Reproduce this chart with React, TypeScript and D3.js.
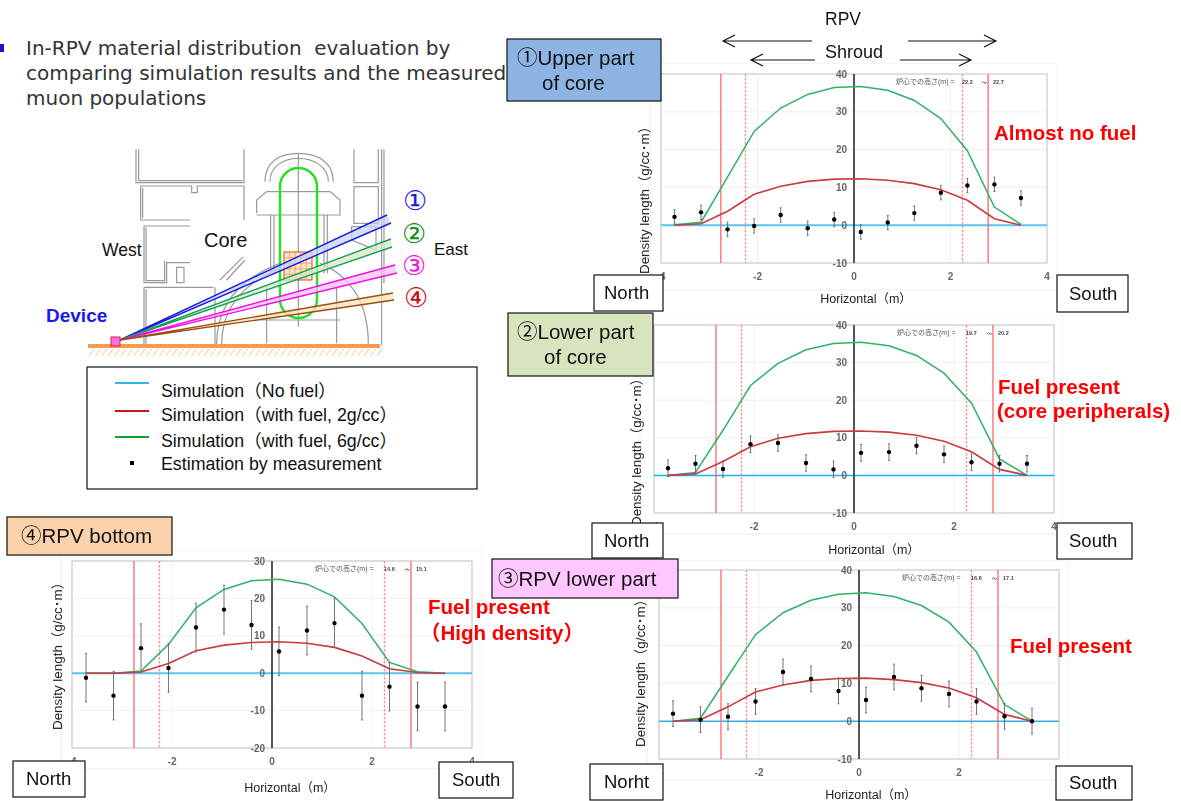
import React from "react";
import * as d3 from "d3";

const SANS = "'Liberation Sans','Noto Sans CJK JP',sans-serif";

const xSamples = [-3.72, -3.17, -2.62, -2.07, -1.52, -0.96, -0.41, 0.14, 0.70, 1.25, 1.80, 2.35, 2.91, 3.46];

const green1 = [0.1, 0.8, 12.8, 24.8, 31, 34.6, 36.4, 36.7, 35.7, 33, 28.2, 19.7, 4.8, 0.2];
const red1 = [0, 0.4, 3.7, 8.2, 10.3, 11.6, 12.2, 12.3, 11.9, 11, 9.4, 6.6, 1.7, 0];
const dots1 = [2.2, 3.4, -1.1, -0.2, 2.7, -0.8, 1.5, -1.8, 0.7, 3.2, 8.6, 10.5, 10.8, 7.2];

const green2 = [0, 0.8, 12, 23.9, 29.8, 33.4, 35.1, 35.4, 34.5, 31.9, 27.2, 19.2, 4.4, 0];
const red2 = [0, 0.4, 3.7, 7.6, 9.9, 11.1, 11.7, 11.8, 11.5, 10.7, 9.1, 6.3, 1.6, 0];
const dots2 = [1.9, 3.1, 1.7, 8.3, 8.6, 3.3, 1.6, 6, 6.2, 7.9, 5.6, 3.5, 3.1, 3.1];

const green3 = [0, 0.8, 11.9, 22.9, 28.7, 32, 33.6, 34, 33, 30.6, 26.2, 18.3, 4.4, 0];
const red3 = [0, 0.4, 3.8, 7.7, 9.6, 10.8, 11.3, 11.4, 11, 10.2, 8.8, 6.2, 1.8, 0];
const dots3 = [2, 0.4, 1.2, 5.2, 13, 11.2, 8, 5.6, 11.7, 8.7, 7.2, 5.2, 1.3, 0];

const green4 = [0, 0, 0.6, 7.7, 17.5, 22.4, 24.7, 25.1, 23.8, 20.4, 13.3, 2.9, 0.4, 0];
const red4 = [0, 0, 0.3, 2.6, 6, 7.5, 8.2, 8.4, 8, 6.9, 4.6, 1.2, 0.2, 0];
const dots4 = [-1.2, -6, 6.7, 1.4, 12.2, 17, 12.9, 5.8, 11.4, 13.4, -6, -3.6, -8.9, -8.9];

const xTicks = [-4, -2, 0, 2, 4];
const yTicks40 = [-10, 0, 10, 20, 30, 40];
const yTicks30 = [-20, -10, 0, 10, 20, 30];
const solidEdges = [-2.76, 2.78];
const dashedEdges = [-2.25, 2.25];

const legendLabels = ["Simulation（No fuel）", "Simulation（with fuel, 2g/cc）", "Simulation（with fuel, 6g/cc）", "Estimation by measurement"];
const introLines = ["In-RPV material distribution  evaluation by", "comparing simulation results and the measured", "muon populations"];

type ChartProps = {
  box: [number, number, number, number];
  frame: [number, number, number, number];
  green: number[]; red: number[]; dots: number[]; err: number;
  yDomain: [number, number]; yTicks: number[];
  heightNote: string[];
  cyan: string; zeroW: number;
  yLabel: { x: number; y: number }; xLabel: { x: number; y: number };
  noteX: number; noteOffs?: number[];
};

function Chart(p: ChartProps) {
  const [l, t, r, b] = p.box;
  const x = d3.scaleLinear().domain([-4, 4]).range([l, r]);
  const y = d3.scaleLinear().domain(p.yDomain).range([b, t]);
  const line = d3.line<number>().x((_, i) => x(xSamples[i])).y(d => y(d));
  const [fl, ft, fr, fb] = p.frame;
  const offs = p.noteOffs ?? [69, 90, 101];
  return (
    <g fontFamily={SANS} filter="url(#soft)">
      <rect x={fl} y={ft} width={fr - fl} height={fb - ft} fill="#fff" stroke="#ececec" />
      {p.yTicks.map(v => <line key={v} x1={l} x2={r} y1={y(v)} y2={y(v)} stroke="#f1f1f1" />)}
      {xTicks.map(v => <line key={v} x1={x(v)} x2={x(v)} y1={t} y2={b} stroke="#f1f1f1" />)}
      <rect x={l} y={t} width={r - l} height={b - t} fill="none" stroke="#d4d4d4" strokeWidth={1.4} />
      <line x1={l} x2={r} y1={y(0)} y2={y(0)} stroke={p.cyan} strokeWidth={p.zeroW} />
      <line x1={x(0)} x2={x(0)} y1={t} y2={b} stroke="#222" strokeWidth={1.5} />
      {solidEdges.map(v => <line key={v} x1={x(v)} x2={x(v)} y1={t} y2={b} stroke="#f4686c" strokeWidth={1.3} />)}
      {dashedEdges.map(v => <line key={v} x1={x(v)} x2={x(v)} y1={t} y2={b} stroke="#ff8f92" strokeWidth={1.4} strokeDasharray="2.5 1.5" />)}
      <path d={line(p.green) ?? ""} fill="none" stroke="#2fb365" strokeWidth={1.5} />
      <path d={line(p.red) ?? ""} fill="none" stroke="#c93a3e" strokeWidth={1.6} />
      {p.dots.map((v, i) => {
        const cx = x(xSamples[i]);
        return (
          <g key={i}>
            <path d={`M${cx - 1} ${y(v - p.err)} H${cx + 1} M${cx} ${y(v - p.err)} V${y(v + p.err)} M${cx - 1} ${y(v + p.err)} H${cx + 1}`} stroke="#666" strokeWidth={0.9} fill="none" />
            <circle cx={cx} cy={y(v)} r={2.2} fill="#000" />
          </g>
        );
      })}
      {p.yTicks.map(v => <text key={v} x={x(0) - 7} y={y(v) + 3.5} textAnchor="end" fontSize={10} fontWeight="bold" fill="#666">{v}</text>)}
      {xTicks.map(v => <text key={v} x={x(v)} y={b + 17} textAnchor="middle" fontSize={10} fontWeight="bold" fill="#666">{v}</text>)}
      <text x={p.noteX} y={t + 10} fontSize={7} fill="#555">炉心での高さ(m) =</text>
      <text x={p.noteX + offs[0]} y={t + 10} fontSize={5.5} fontWeight="bold" fill="#444">{p.heightNote[0]}</text>
      <text x={p.noteX + offs[1]} y={t + 10} fontSize={5} fontWeight="bold" fill="#444">～</text>
      <text x={p.noteX + offs[2]} y={t + 10} fontSize={5.5} fontWeight="bold" fill="#444">{p.heightNote[1]}</text>
      <text transform={`translate(${p.yLabel.x},${p.yLabel.y}) rotate(-90)`} textAnchor="middle" fontSize={13.4} fill="#222">Density length（g/cc･m）</text>
      <text x={p.xLabel.x} y={p.xLabel.y} textAnchor="middle" fontSize={12.5} fill="#222">Horizontal（m）</text>
    </g>
  );
}

function Box({ x, y, w, h, fill = "#fff", lines, size = 18.5, anchorXs }: { x: number; y: number; w: number; h: number; fill?: string; lines: string[]; size?: number; anchorXs: number[] }) {
  const lh = 25;
  const startY = y + h / 2 + size * 0.35 - ((lines.length - 1) * lh) / 2;
  return (
    <g fontFamily={SANS}>
      <rect x={x} y={y} width={w} height={h} fill={fill} stroke="#111" strokeWidth={1.2} />
      {lines.map((s, i) => <text key={i} x={anchorXs[i]} y={startY + i * lh} fontSize={size} fill="#111">{s}</text>)}
    </g>
  );
}

function Arrow({ x1, x2, y }: { x1: number; x2: number; y: number }) {
  const d = x2 > x1 ? -1 : 1;
  return <path d={`M${x1} ${y} H${x2} M${x2 + d * 12} ${y - 6} L${x2} ${y} L${x2 + d * 12} ${y + 6}`} fill="none" stroke="#111" strokeWidth={1.2} />;
}

const rays = [
  { a: [387, 215], b: [391, 223], stroke: "#1a1ae0", fill: "#c7d6ee" },
  { a: [391, 239], b: [392, 247], stroke: "#17a05a", fill: "#dbe8c8" },
  { a: [395, 265], b: [397, 273], stroke: "#f010e0", fill: "#fbc0f5" },
  { a: [393, 293], b: [394, 300], stroke: "#9a4e10", fill: "#fbe3b8" },
];
const rayOrigin = [120, 340];
const circled = [
  { s: "①", x: 415, y: 210, c: "#1a1ae0" },
  { s: "②", x: 414, y: 243, c: "#109010" },
  { s: "③", x: 414, y: 275, c: "#f010e0" },
  { s: "④", x: 416, y: 307, c: "#c01010" },
];

const structurePaths = [
  "M168 28 V128 H492 V28 M176 28 V122 H488",
  "M182 138 H335 V158 H352 V138 H492 V240 M182 138 V240 H330 M188 144 V234",
  "M192 258 H330 M192 258 V428 H260 V368 H330 M198 262 V422 H254 V362",
  "M192 442 H400 M192 442 V612 M198 448 V612 M405 442 V612",
  "M290 382 H312 V428 H290 Z",
  "M555 125 C555 65 600 40 655 40 C710 40 760 65 760 125 M570 125 C570 80 610 55 655 55 C700 55 745 80 745 125",
  "M530 220 V180 L560 155 H750 L780 180 V225 H530",
  "M572 225 V400 M582 225 V400 M742 225 V400 M732 225 V400 M655 40 V560",
  "M410 612 C410 500 470 420 600 370 M720 370 C820 410 865 500 865 612 M425 612 C425 510 480 435 600 385",
  "M545 540 H780 M560 440 V610 M770 440 V610",
  "M822 28 V128 H895 V28 M822 140 H895 V250 H822 Z M815 260 H888 V330 L815 300 Z",
  "M905 28 V615 M912 28 V430",
  "M420 420 L490 350 M440 420 L495 360",
];

export default function App() {
  const gridX = d3.range(0, 5);
  const gridY = d3.range(0, 5);
  const hatch = d3.range(89, 380, 6.4);
  return (
    <svg width={1181} height={801} style={{ position: "absolute", left: 0, top: 0, background: "#fff" }}>
      <defs>
        <filter id="soft" x="0" y="0" width="100%" height="100%">
          <feGaussianBlur stdDeviation={0.3} />
        </filter>
      </defs>
      <rect x={0} y={44} width={4} height={8} fill="#1818c8" />
      {introLines.map((s, i) => (
        <text key={i} x={26} y={55 + i * 25} fontFamily="'DejaVu Sans',Verdana,sans-serif" fontSize={20} fill="#333" style={{ whiteSpace: "pre" }}>{s}</text>
      ))}

      {/* reactor schematic */}
      <g transform="translate(80,140) scale(0.3333)" fill="none" stroke="#999" strokeWidth={3.6}>
        {structurePaths.map((d, i) => <path key={i} d={d} />)}
        <rect x={332} y={242} width={208} height={108} fill="#fff" stroke="none" />
      </g>
      <rect x={284} y={252} width={28} height={28} fill="#fbe5c8" stroke="#c02010" strokeWidth={0.8} />
      {gridX.map(i => <line key={i} x1={284 + i * 5.6} x2={284 + i * 5.6} y1={252} y2={280} stroke="#f3a050" strokeWidth={0.8} />)}
      {gridY.map(i => <line key={i} y1={252 + i * 5.6} y2={252 + i * 5.6} x1={284} x2={312} stroke="#f3a050" strokeWidth={0.8} />)}
      <rect x={280} y={168} width={37} height={150} rx={18.5} fill="none" stroke="#22e022" strokeWidth={2.4} />
      {rays.map((r, i) => (
        <g key={i}>
          <path d={`M${rayOrigin[0]} ${rayOrigin[1]} L${r.a[0]} ${r.a[1]} L${r.b[0]} ${r.b[1]} Z`} fill={r.fill} fillOpacity={0.75} stroke="none" />
          <path d={`M${r.a[0]} ${r.a[1]} L${rayOrigin[0]} ${rayOrigin[1]} L${r.b[0]} ${r.b[1]}`} fill="none" stroke={r.stroke} strokeWidth={1.4} />
        </g>
      ))}
      <rect x={88} y={344} width={292} height={4} fill="#f79a50" />
      {hatch.map((v, i) => <line key={i} x1={v} x2={v + 5} y1={356} y2={349} stroke="#f7b070" strokeWidth={0.8} />)}
      <rect x={111} y={337} width={9} height={9} fill="#ff70e0" stroke="#e02040" strokeWidth={1} />
      {circled.map(c => <text key={c.s} x={c.x} y={c.y} textAnchor="middle" fontFamily="'DejaVu Sans'" fontSize={27} fill={c.c}>{c.s}</text>)}
      <g fontFamily={SANS} fill="#111">
        <text x={102} y={256} fontSize={17.5}>West</text>
        <text x={204} y={247} fontSize={20}>Core</text>
        <text x={434} y={255} fontSize={17}>East</text>
        <text x={46} y={322} fontSize={19} fontWeight="bold" fill="#1818f0">Device</text>
      </g>

      {/* legend */}
      <rect x={87} y={367} width={390} height={122} fill="#fff" stroke="#111" strokeWidth={1.2} />
      <line x1={115} x2={149} y1={383} y2={383} stroke="#33b5ea" strokeWidth={2} />
      <line x1={115} x2={149} y1={411} y2={411} stroke="#c8181c" strokeWidth={2} />
      <line x1={115} x2={149} y1={437} y2={437} stroke="#10a030" strokeWidth={2} />
      <rect x={130} y={461} width={4} height={4} fill="#000" />
      {legendLabels.map((s, i) => (
        <text key={s} x={161} y={[397, 421, 447, 470][i]} fontFamily={SANS} fontSize={17.8} fill="#111">{s}</text>
      ))}

      {/* charts */}
      <Chart box={[661, 74, 1047, 263]} frame={[650, 63, 1057, 290]} green={green1} red={red1} dots={dots1} err={1.9} yDomain={[-10, 40]} yTicks={yTicks40} heightNote={["22.2", "22.7"]} cyan="#55c6ee" zeroW={2} yLabel={{ x: 649, y: 197 }} xLabel={{ x: 866, y: 303 }} noteX={896} noteOffs={[66, 86, 97]} />
      <Chart box={[654, 325, 1054, 513]} frame={[640, 315, 1063, 534]} green={green2} red={red2} dots={dots2} err={2.2} yDomain={[-10, 40]} yTicks={yTicks40} heightNote={["19.7", "20.2"]} cyan="#10b8f0" zeroW={1.5} yLabel={{ x: 641, y: 449 }} xLabel={{ x: 874, y: 554 }} noteX={897} />
      <Chart box={[659, 570, 1059, 759]} frame={[647, 560, 1069, 780]} green={green3} red={red3} dots={dots3} err={3.4} yDomain={[-10, 40]} yTicks={yTicks40} heightNote={["16.6", "17.1"]} cyan="#33b0e0" zeroW={1.5} yLabel={{ x: 645, y: 670 }} xLabel={{ x: 871, y: 799 }} noteX={902} />
      <Chart box={[72, 561, 472, 748]} frame={[61, 550, 482, 769]} green={green4} red={red4} dots={dots4} err={6.5} yDomain={[-20, 30]} yTicks={yTicks30} heightNote={["14.6", "15.1"]} cyan="#55c6ee" zeroW={2} yLabel={{ x: 62, y: 653 }} xLabel={{ x: 290, y: 792 }} noteX={315} />

      {/* callouts */}
      <Box x={507} y={39} w={154} h={62} fill="#8EB4E3" size={20.5} lines={["①Upper part", "of core"]} anchorXs={[517, 542]} />
      <Box x={508} y={313} w={145} h={63} fill="#D7E4BD" size={20.5} lines={["②Lower part", "of core"]} anchorXs={[517, 544]} />
      <Box x={492} y={559} w={186} h={39} fill="#FFC6FF" size={20.5} lines={["③RPV lower part"]} anchorXs={[498]} />
      <Box x={7} y={517} w={165} h={38} fill="#FBD2AC" size={20.5} lines={["④RPV bottom"]} anchorXs={[21]} />
      <Box x={594} y={275} w={69} h={36} lines={["North"]} anchorXs={[604]} />
      <Box x={1057} y={275} w={71} h={37} lines={["South"]} anchorXs={[1069]} />
      <Box x={592} y={523} w={71} h={35} lines={["North"]} anchorXs={[604]} />
      <Box x={1057} y={523} w={75} h={36} lines={["South"]} anchorXs={[1069]} />
      <Box x={590} y={764} w={73} h={36} lines={["Norht"]} anchorXs={[604]} />
      <Box x={1056} y={766} w={76} h={34} lines={["South"]} anchorXs={[1069]} />
      <Box x={13} y={761} w={72} h={36} lines={["North"]} anchorXs={[26]} />
      <Box x={439} y={762} w={74} h={36} lines={["South"]} anchorXs={[452]} />

      {/* RPV / shroud */}
      <g fontFamily={SANS} fill="#111">
        <text x={825} y={25} fontSize={17.5}>RPV</text>
        <text x={825} y={58} fontSize={18}>Shroud</text>
      </g>
      <Arrow x1={812} x2={723} y={41} />
      <Arrow x1={908} x2={996} y={41} />
      <Arrow x1={815} x2={751} y={60} />
      <Arrow x1={900} x2={971} y={60} />

      {/* annotations */}
      <g fontFamily={SANS} fontSize={20.5} fontWeight="bold" fill="#ff0000">
        <text x={994} y={140}>Almost no fuel</text>
        <text x={998} y={394}>Fuel present</text>
        <text x={997} y={418}>(core peripherals)</text>
        <text x={1010} y={653}>Fuel present</text>
        <text x={428} y={614}>Fuel present</text>
        <text x={420} y={640}>（High density）</text>
      </g>
    </svg>
  );
}
